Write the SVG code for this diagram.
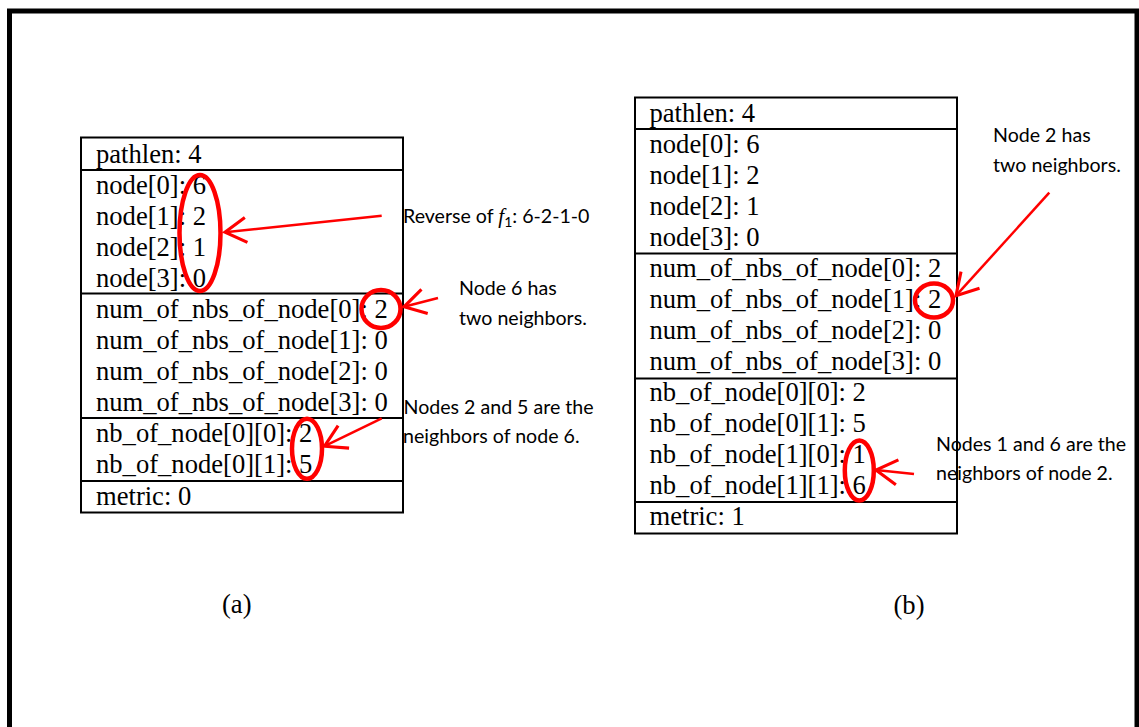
<svg xmlns="http://www.w3.org/2000/svg" width="1139" height="727" viewBox="0 0 1139 727">
<defs>
<style>
.tbl{fill:none;stroke:#000;stroke-width:2}
.div{stroke:#000;stroke-width:2}
.t{font-family:"Liberation Serif","Times New Roman",serif;font-size:26.6px;fill:#000}
.n{font-family:Lato,"Liberation Sans",sans-serif;font-size:19.6px;fill:#000}
.ring{fill:none;stroke:#f00;stroke-width:4.5}
.arr{fill:none;stroke:#f00;stroke-width:2.5;marker-end:url(#vee)}
</style>
<marker id="vee" markerUnits="userSpaceOnUse" markerWidth="30" markerHeight="30" viewBox="-20 -12 22 24" refX="0" refY="0" orient="auto">
<path d="M -17 -10 L 0 0 L -17 10" fill="none" stroke="#f00" stroke-width="2.5"/>
</marker>
</defs>
<rect width="1139" height="727" fill="#fff"/>
<rect id="frame" x="9.5" y="11" width="1127.5" height="800" fill="none" stroke="#000" stroke-width="5"/>

<g id="tableA">
<rect class="tbl" x="81" y="137.5" width="322" height="375"/>
<line class="div" x1="81" y1="170" x2="403" y2="170"/>
<line class="div" x1="81" y1="293.5" x2="403" y2="293.5"/>
<line class="div" x1="81" y1="418" x2="403" y2="418"/>
<line class="div" x1="81" y1="481" x2="403" y2="481"/>
<text class="t" x="96" y="163">pathlen: 4</text>
<text class="t" x="96" y="194">node[0]: 6</text>
<text class="t" x="96" y="225">node[1]: 2</text>
<text class="t" x="96" y="256">node[2]: 1</text>
<text class="t" x="96" y="287">node[3]: 0</text>
<text class="t" x="96" y="318">num_of_nbs_of_node[0]: 2</text>
<text class="t" x="96" y="349">num_of_nbs_of_node[1]: 0</text>
<text class="t" x="96" y="380">num_of_nbs_of_node[2]: 0</text>
<text class="t" x="96" y="411">num_of_nbs_of_node[3]: 0</text>
<text class="t" x="96" y="442">nb_of_node[0][0]: 2</text>
<text class="t" x="96" y="473">nb_of_node[0][1]: 5</text>
<text class="t" x="96" y="505">metric: 0</text>
</g>

<g id="tableB">
<rect class="tbl" x="635" y="97.5" width="322" height="436"/>
<line class="div" x1="635" y1="129" x2="957" y2="129"/>
<line class="div" x1="635" y1="253.5" x2="957" y2="253.5"/>
<line class="div" x1="635" y1="378.5" x2="957" y2="378.5"/>
<line class="div" x1="635" y1="502" x2="957" y2="502"/>
<text class="t" x="649.5" y="122">pathlen: 4</text>
<text class="t" x="649.5" y="153">node[0]: 6</text>
<text class="t" x="649.5" y="184">node[1]: 2</text>
<text class="t" x="649.5" y="215">node[2]: 1</text>
<text class="t" x="649.5" y="246">node[3]: 0</text>
<text class="t" x="649.5" y="277">num_of_nbs_of_node[0]: 2</text>
<text class="t" x="649.5" y="308">num_of_nbs_of_node[1]: 2</text>
<text class="t" x="649.5" y="339">num_of_nbs_of_node[2]: 0</text>
<text class="t" x="649.5" y="370">num_of_nbs_of_node[3]: 0</text>
<text class="t" x="649.5" y="401">nb_of_node[0][0]: 2</text>
<text class="t" x="649.5" y="432">nb_of_node[0][1]: 5</text>
<text class="t" x="649.5" y="463">nb_of_node[1][0]: 1</text>
<text class="t" x="649.5" y="494">nb_of_node[1][1]: 6</text>
<text class="t" x="649.5" y="525">metric: 1</text>
</g>

<g id="highlights">
<ellipse class="ring" cx="200" cy="233" rx="20.5" ry="58"/>
<ellipse class="ring" cx="381" cy="309" rx="19.5" ry="19"/>
<ellipse class="ring" cx="307" cy="448.7" rx="15" ry="30"/>
<ellipse class="ring" cx="934" cy="300.5" rx="19" ry="17"/>
<ellipse class="ring" cx="859.3" cy="470.5" rx="14.5" ry="30"/>
</g>

<g id="connectors">
<line class="arr" x1="381.7" y1="215.7" x2="225" y2="232.2"/>
<line class="arr" x1="438" y1="298" x2="404" y2="306.8"/>
<line class="arr" x1="381.7" y1="418.3" x2="324.5" y2="446.2"/>
<line class="arr" x1="1049.3" y1="192.7" x2="956" y2="295.7"/>
<line class="arr" x1="914" y1="474" x2="876" y2="470.1"/>
</g>

<g id="note-reverse">
<text class="n" x="403" y="223">Reverse of <tspan font-family="'Liberation Serif',serif" font-style="italic" font-size="21px">f</tspan><tspan font-size="14px" dy="4">1</tspan><tspan dy="-4">: 6-2-1-0</tspan></text>
</g>
<g id="note-node6">
<text class="n" x="459" y="295">Node 6 has</text>
<text class="n" x="459" y="325">two neighbors.</text>
</g>
<g id="note-nbs6">
<text class="n" x="403.5" y="414">Nodes 2 and 5 are the</text>
<text class="n" x="403" y="443">neighbors of node 6.</text>
</g>
<g id="note-node2">
<text class="n" x="993" y="142">Node 2 has</text>
<text class="n" x="993" y="172">two neighbors.</text>
</g>
<g id="note-nbs2">
<text class="n" x="936" y="451">Nodes 1 and 6 are the</text>
<text class="n" x="936" y="480">neighbors of node 2.</text>
</g>

<g id="label-a"><text class="t" x="222" y="613" font-size="29px">(a)</text></g>
<g id="label-b"><text class="t" x="893.5" y="614" font-size="29px">(b)</text></g>
</svg>
